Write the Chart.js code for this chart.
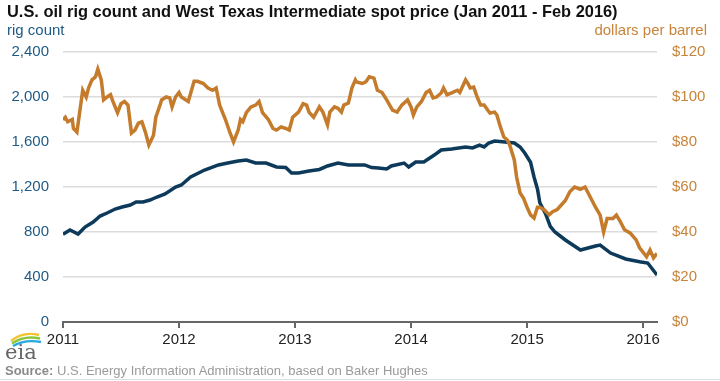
<!DOCTYPE html>
<html>
<head>
<meta charset="utf-8">
<script src="https://cdn.jsdelivr.net/npm/chart.js@4.4.1/dist/chart.umd.min.js"></script>
<style>
  body { margin: 0; background: #fff; font-family: "Liberation Sans", Arial, sans-serif; }
  #wrap { position: relative; width: 720px; height: 381px; overflow: hidden; }
  #wrap canvas { position: absolute; left: 0; top: 0; }
  .txt { position: absolute; white-space: nowrap; }
  #title { left: 7px; top: 2px; font-size: 16.4px; font-weight: bold; color: #111; }
  #leftUnit { left: 7px; top: 21px; font-size: 15px; color: #1f5a85; }
  #rightUnit { right: 13px; top: 21px; font-size: 15px; color: #c8843a; }
  #source { left: 5px; top: 363px; font-size: 13px; color: #9a9a9a; }
  #source b { color: #8a8a8a; }
  #rule { position: absolute; left: 0; top: 379px; width: 720px; height: 1px; background: #ddd; }
  #logo { position: absolute; left: 3px; top: 329px; }
</style>
</head>
<body>
<div id="wrap">
  <canvas id="chart"></canvas>
  <div class="txt" id="title">U.S. oil rig count and West Texas Intermediate spot price (Jan 2011 - Feb 2016)</div>
  <div class="txt" id="leftUnit">rig count</div>
  <div class="txt" id="rightUnit">dollars per barrel</div>
  <svg id="logo" width="42" height="32" viewBox="0 0 42 32">
    <path d="M8 12 Q20 2 36 6" stroke="#f2c230" stroke-width="2.4" fill="none"/>
    <path d="M9 14.5 Q21 6 37 9.5" stroke="#8cc63f" stroke-width="2.4" fill="none"/>
    <path d="M10 17 Q22 10 38 13" stroke="#29a9e0" stroke-width="2.4" fill="none"/>
    <text x="2" y="30" font-family="DejaVu Serif, serif" font-size="21" fill="#666">eia</text>
  </svg>
  <div class="txt" id="source"><b>Source:</b> U.S. Energy Information Administration, based on Baker Hughes</div>
  <div id="rule"></div>
</div>
<script>
// x values are decimal years
const yearTicks = [2011, 2012, 2013, 2014, 2015, 2016];

const rigYear = [2011.0, 2011.06, 2011.13, 2011.19, 2011.26, 2011.32, 2011.38, 2011.45, 2011.51, 2011.58,
  2011.63, 2011.69, 2011.75, 2011.81, 2011.88, 2011.97, 2012.02, 2012.10, 2012.22, 2012.34,
  2012.42, 2012.51, 2012.58, 2012.66, 2012.75, 2012.84, 2012.92, 2012.97, 2013.03, 2013.12,
  2013.21, 2013.28, 2013.37, 2013.46, 2013.53, 2013.60, 2013.66, 2013.72, 2013.79, 2013.83,
  2013.94, 2013.98, 2014.04, 2014.11, 2014.20, 2014.26, 2014.35, 2014.47, 2014.53, 2014.59,
  2014.63, 2014.67, 2014.72, 2014.81, 2014.89, 2014.94, 2014.98, 2015.03, 2015.06, 2015.09,
  2015.11, 2015.16, 2015.20, 2015.24, 2015.33, 2015.46, 2015.59, 2015.63, 2015.72, 2015.85,
  2015.97, 2016.04, 2016.12];
const rigCount = [780, 818, 782, 844, 889, 942, 969, 1004, 1022, 1040,
  1067, 1067, 1084, 1111, 1138, 1200, 1218, 1289, 1351, 1396,
  1413, 1431, 1440, 1413, 1413, 1378, 1373, 1324, 1324, 1342,
  1356, 1387, 1413, 1396, 1396, 1396, 1373, 1369, 1360, 1387,
  1413, 1378, 1422, 1422, 1484, 1529, 1538, 1556, 1547, 1573,
  1556, 1591, 1609, 1600, 1591, 1556, 1502, 1420, 1289, 1180,
  1060, 960, 850, 800, 729, 640, 676, 684, 613, 560,
  536, 524, 418];

const wtiYear = [2011.0, 2011.02, 2011.04, 2011.08, 2011.09, 2011.12, 2011.15, 2011.17, 2011.20, 2011.22,
  2011.25, 2011.28, 2011.30, 2011.33, 2011.35, 2011.38, 2011.41, 2011.43, 2011.47, 2011.50,
  2011.53, 2011.56, 2011.59, 2011.62, 2011.65, 2011.68, 2011.71, 2011.74, 2011.78, 2011.80,
  2011.84, 2011.85, 2011.89, 2011.92, 2011.94, 2011.97, 2012.0, 2012.02, 2012.08, 2012.13,
  2012.16, 2012.21, 2012.25, 2012.29, 2012.32, 2012.35, 2012.40, 2012.44, 2012.47, 2012.51,
  2012.53, 2012.55, 2012.58, 2012.62, 2012.66, 2012.69, 2012.72, 2012.77, 2012.81, 2012.84,
  2012.88, 2012.92, 2012.95, 2012.98, 2013.03, 2013.07, 2013.10, 2013.12, 2013.16, 2013.21,
  2013.24, 2013.28, 2013.30, 2013.34, 2013.37, 2013.40, 2013.42, 2013.46, 2013.49, 2013.52,
  2013.53, 2013.58, 2013.61, 2013.64, 2013.68, 2013.71, 2013.75, 2013.79, 2013.84, 2013.88,
  2013.92, 2013.97, 2014.0, 2014.02, 2014.05, 2014.09, 2014.13, 2014.16, 2014.19, 2014.22,
  2014.26, 2014.28, 2014.31, 2014.35, 2014.40, 2014.42, 2014.47, 2014.49, 2014.51, 2014.54,
  2014.57, 2014.60, 2014.63, 2014.66, 2014.68, 2014.72, 2014.74, 2014.77, 2014.80, 2014.83,
  2014.85, 2014.89, 2014.91, 2014.94, 2014.97, 2015.0, 2015.03, 2015.06, 2015.09, 2015.11,
  2015.15, 2015.19, 2015.22, 2015.26, 2015.33, 2015.37, 2015.41, 2015.46, 2015.50, 2015.54,
  2015.59, 2015.63, 2015.66, 2015.69, 2015.74, 2015.77, 2015.80, 2015.84, 2015.89, 2015.94,
  2015.97, 2016.03, 2016.06, 2016.09, 2016.12];
const wtiPrice = [89.8, 91, 89, 90, 86, 84.4, 95.6, 103, 100, 104,
  107.6, 109, 112.4, 107.6, 98.7, 100, 101, 98, 93, 97,
  98, 96.4, 84, 85.3, 88.4, 89, 84.4, 78.7, 83, 91,
  97, 98.7, 100, 99.6, 95.6, 100, 102, 100, 98, 107,
  107, 106, 104, 103, 104, 96.4, 90, 84, 80, 85.3,
  90, 89, 93, 95.6, 96.4, 98, 93, 90, 86, 85.3,
  86.7, 86, 85.3, 91, 93.3, 97, 96.4, 93.3, 91, 95.6,
  93.3, 87.6, 93.3, 95.6, 95, 93.3, 96.4, 97.3, 104, 107.6,
  106.7, 106, 106.7, 109, 108.4, 103, 102, 98.7, 94.2, 93.3,
  96.4, 98.7, 95.6, 92, 95.6, 98, 102, 103, 99.6, 100,
  101.8, 104, 101, 101.8, 103, 102, 107.6, 106, 104, 104.4,
  100, 96.4, 96.4, 94.2, 92.9, 93.3, 92, 86.7, 82.2, 80.9,
  78.7, 72, 64.4, 57.3, 55, 51, 47.6, 46.2, 51, 51,
  49.8, 47.6, 49, 50, 54, 58, 60, 59, 60, 56,
  51, 47.5, 40, 46, 46, 47.5, 45, 41, 39.5, 36.5,
  33, 29, 32, 28.5, 30.5];

const navy = "#0d3a5a";
const orange = "#c47b2c";
const font = { family: "'Liberation Sans', Arial, sans-serif", size: 15 };

new Chart(document.getElementById("chart"), {
  type: "line",
  data: {
    datasets: [
      {
        label: "WTI spot price",
        data: wtiYear.map((x, i) => ({ x: x, y: wtiPrice[i] })),
        yAxisID: "y1",
        borderColor: orange,
        borderWidth: 3.5,
        pointRadius: 0,
        tension: 0,
        order: 0,
      },
      {
        label: "oil rig count",
        data: rigYear.map((x, i) => ({ x: x, y: rigCount[i] })),
        yAxisID: "y",
        borderColor: navy,
        borderWidth: 3.5,
        pointRadius: 0,
        tension: 0,
        order: 1,
      },
    ],
  },
  options: {
    responsive: true,
    maintainAspectRatio: false,
    animation: false,
    layout: { padding: { top: 52, bottom: 35, left: 0, right: 0 } },
    plugins: { legend: { display: false }, tooltip: { enabled: false } },
    scales: {
      x: {
        type: "linear",
        min: 2011,
        max: 2016.12,
        afterBuildTicks: s => { s.ticks = yearTicks.map(v => ({ value: v })); },
        afterFit: s => { s.height = 24; },
        border: { display: true, color: "#666", width: 2 },
        grid: { display: true, drawOnChartArea: false, drawTicks: true, tickLength: 6, color: "#666", lineWidth: 2 },
        ticks: { color: "#222", font: font, padding: 3, maxRotation: 0, callback: v => String(v) },
      },
      y: {
        position: "left",
        min: 0,
        max: 2400,
        afterFit: s => { s.width = 63; },
        border: { display: false },
        grid: { color: "#dcdcdc", lineWidth: 1.5, drawTicks: false },
        ticks: { stepSize: 400, color: "#1f5a85", font: font, padding: 14, callback: v => v.toLocaleString("en-US") },
      },
      y1: {
        position: "right",
        min: 0,
        max: 120,
        afterFit: s => { s.width = 63; },
        border: { display: false },
        grid: { display: false, drawTicks: false },
        ticks: { stepSize: 20, color: "#c8843a", font: font, padding: 15, callback: v => "$" + v },
      },
    },
  },
});
</script>
</body>
</html>
